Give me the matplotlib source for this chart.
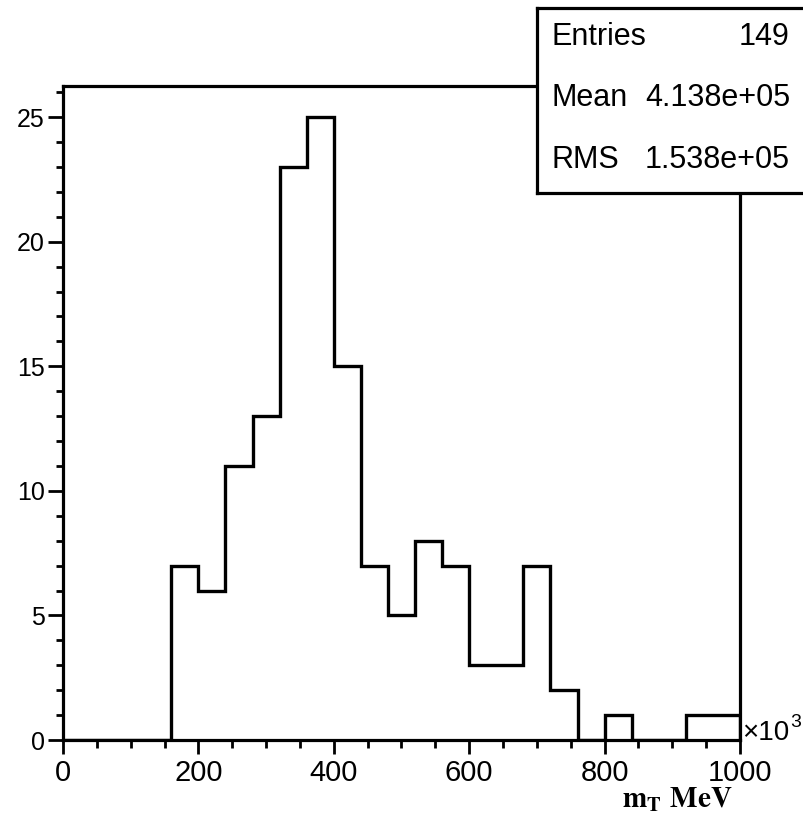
import numpy as np
import matplotlib
matplotlib.use("Agg")
import matplotlib.pyplot as plt
from matplotlib.ticker import MultipleLocator

plt.rcParams['font.family'] = ['Liberation Sans', 'DejaVu Sans']
plt.rcParams['mathtext.fontset'] = 'stix'

# histogram content, x in units of 10^3 MeV
edges = np.arange(0, 1001, 40)
counts = [0, 0, 0, 0, 7, 6, 11, 13, 23, 25, 15, 7, 5, 8, 7, 3, 3, 7, 2, 0, 1, 0, 0, 1, 1]

stat_names = ["Entries", "Mean", "RMS"]
stat_values = ["149", "4.138e+05", "1.538e+05"]

W, H = 804, 816
fig = plt.figure(figsize=(W / 100, H / 100), dpi=100)
ax = fig.add_axes([63 / W, (H - 740) / H, (740 - 63) / W, (740 - 86) / H])

ax.stairs(counts, edges, color='black', lw=2.4)

ax.set_xlim(0, 1000)
ax.set_ylim(0, 26.25)
for s in ax.spines.values():
    s.set_linewidth(2.3)

ax.xaxis.set_major_locator(MultipleLocator(200))
ax.xaxis.set_minor_locator(MultipleLocator(50))
ax.yaxis.set_major_locator(MultipleLocator(5))
ax.yaxis.set_minor_locator(MultipleLocator(1))
ax.tick_params(which='both', direction='out', width=2, top=False, right=False)
ax.tick_params(axis='x', which='major', length=10, labelsize=21, pad=4)
ax.tick_params(axis='x', which='minor', length=6)
ax.tick_params(axis='y', which='major', length=11, labelsize=18, pad=2)
ax.tick_params(axis='y', which='minor', length=5)

# x label and exponent
fig.text(733 / W, 1 - 808 / H, r"$\mathbf{m_T}$ $\mathbf{MeV}$", ha='right', va='baseline', fontsize=21)
fig.text(742 / W, 1 - 740 / H, "×10", ha='left', va='baseline', fontsize=20)
fig.text(790 / W, 1 - 727 / H, "3", ha='left', va='baseline', fontsize=14)

# stats box
box = fig.add_axes([537 / W, (H - 193) / H, (815 - 537) / W, (193 - 8) / H], zorder=5)
box.set_xticks([])
box.set_yticks([])
box.set_facecolor('white')
for s in box.spines.values():
    s.set_linewidth(2.3)

rows_y = [37, 98, 160]
for name, val, yy in zip(stat_names, stat_values, rows_y):
    fig.text(552 / W, 1 - yy / H, name, ha='left', va='center', fontsize=22, zorder=6)
    fig.text(790 / W, 1 - yy / H, val, ha='right', va='center', fontsize=22, zorder=6)

fig.savefig("out.png", dpi=100)
